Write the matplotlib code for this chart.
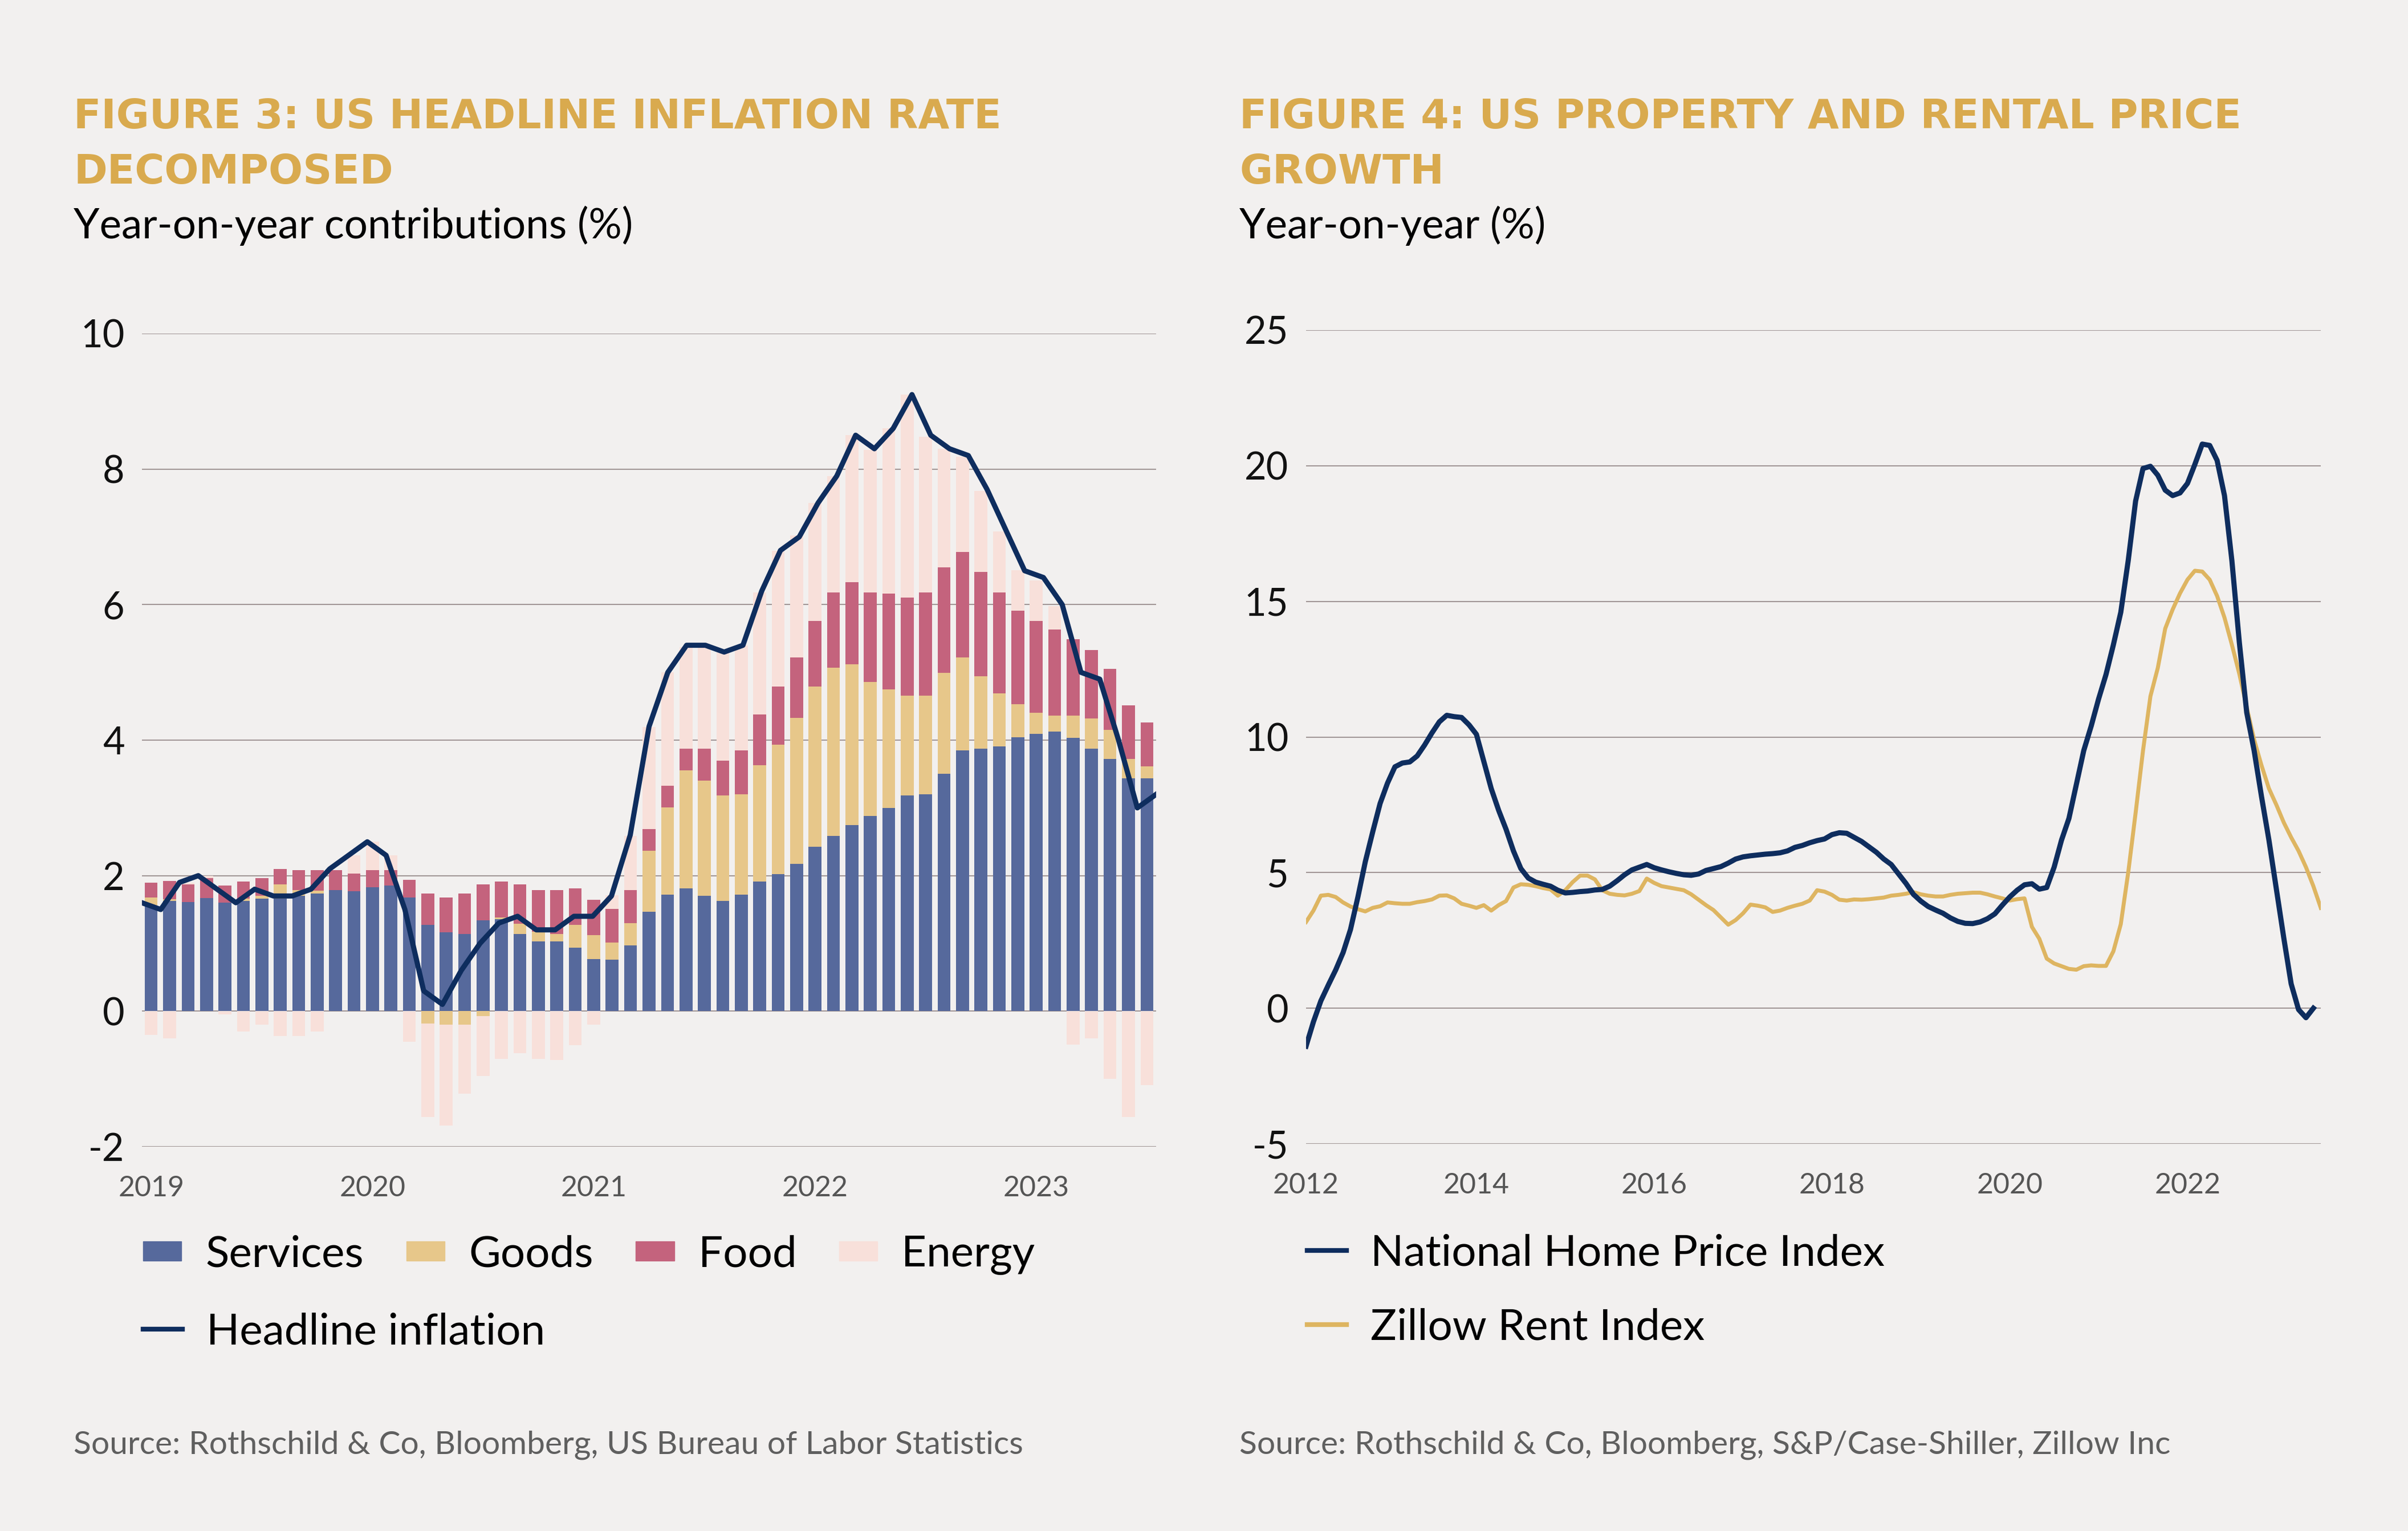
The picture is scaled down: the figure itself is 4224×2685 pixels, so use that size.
import matplotlib
matplotlib.use("Agg")
import matplotlib.pyplot as plt
import numpy as np
from matplotlib.patches import Patch
from matplotlib.lines import Line2D

plt.rcParams['font.family'] = ['Lato', 'DejaVu Sans']
plt.rcParams['axes.unicode_minus'] = False

# ---- Figure 3 data: monthly contributions, Jan 2019 - Jul 2023 ----
year_labels_l = ['2019', '2020', '2021', '2022', '2023']
services = [1.55, 1.63, 1.61, 1.67, 1.60, 1.63, 1.66, 1.66, 1.70, 1.74, 1.79, 1.77,
            1.83, 1.85, 1.68, 1.27, 1.16, 1.14, 1.34, 1.36, 1.14, 1.03, 1.03, 0.94,
            0.77, 0.76, 0.97, 1.47, 1.72, 1.81, 1.70, 1.63, 1.72, 1.91, 2.02, 2.17,
            2.43, 2.59, 2.75, 2.88, 3.00, 3.18, 3.20, 3.50, 3.85, 3.87, 3.91, 4.04,
            4.09, 4.13, 4.03, 3.87, 3.72, 3.44, 3.44]
goods = [0.13, 0.02, 0.00, 0.00, 0.00, 0.03, 0.04, 0.21, 0.09, 0.04, 0.00, 0.00,
         0.00, 0.00, 0.00, -0.18, -0.20, -0.20, -0.07, 0.02, 0.15, 0.14, 0.11, 0.33,
         0.35, 0.25, 0.33, 0.90, 1.29, 1.74, 1.70, 1.55, 1.48, 1.72, 1.91, 2.16,
         2.36, 2.48, 2.37, 1.98, 1.75, 1.48, 1.46, 1.49, 1.37, 1.07, 0.78, 0.49,
         0.31, 0.23, 0.33, 0.45, 0.43, 0.28, 0.17]
food = [0.22, 0.27, 0.26, 0.29, 0.25, 0.25, 0.26, 0.23, 0.29, 0.30, 0.29, 0.26,
        0.25, 0.23, 0.26, 0.47, 0.52, 0.60, 0.53, 0.53, 0.58, 0.62, 0.65, 0.54,
        0.52, 0.50, 0.49, 0.32, 0.32, 0.32, 0.47, 0.52, 0.65, 0.75, 0.86, 0.89,
        0.97, 1.11, 1.21, 1.32, 1.41, 1.44, 1.52, 1.56, 1.56, 1.54, 1.49, 1.38,
        1.36, 1.27, 1.13, 1.01, 0.90, 0.79, 0.65]
energy = [-0.35, -0.40, 0.03, 0.04, -0.05, -0.30, -0.20, -0.37, -0.37, -0.30, 0.00, 0.27,
          0.42, 0.22, -0.45, -1.38, -1.49, -1.02, -0.89, -0.70, -0.62, -0.70, -0.72, -0.50,
          -0.20, 0.20, 0.80, 1.50, 1.67, 1.50, 1.50, 1.60, 1.55, 1.80, 2.00, 1.80,
          1.74, 1.72, 2.17, 2.10, 2.44, 3.00, 2.30, 1.75, 1.40, 1.20, 0.90, 0.60,
          0.60, 0.35, -0.49, -0.40, -1.00, -1.56, -1.09]
headline = [1.6, 1.5, 1.9, 2.0, 1.8, 1.6, 1.8, 1.7, 1.7, 1.8, 2.1, 2.3,
            2.5, 2.3, 1.5, 0.3, 0.1, 0.6, 1.0, 1.3, 1.4, 1.2, 1.2, 1.4,
            1.4, 1.7, 2.6, 4.2, 5.0, 5.4, 5.4, 5.3, 5.4, 6.2, 6.8, 7.0,
            7.5, 7.9, 8.5, 8.3, 8.6, 9.1, 8.5, 8.3, 8.2, 7.7, 7.1, 6.5,
            6.4, 6.0, 5.0, 4.9, 4.0, 3.0, 3.2]

# ---- Figure 4 data: monthly YoY, from Feb 2012 ----
year_labels_r = ['2012', '2014', '2016', '2018', '2020', '2022']
home_price = [-1.4, -0.5, 0.27, 0.85, 1.41, 2.05, 2.9, 4.1, 5.4, 6.5, 7.55, 8.3,
              8.9, 9.04, 9.08, 9.3, 9.7, 10.15, 10.56, 10.8, 10.75, 10.72, 10.45, 10.1,
              9.1, 8.1, 7.3, 6.6, 5.8, 5.15, 4.8, 4.65, 4.57, 4.5, 4.35, 4.25,
              4.27, 4.3, 4.32, 4.36, 4.38, 4.5, 4.7, 4.92, 5.1, 5.2, 5.3, 5.18,
              5.1, 5.03, 4.97, 4.92, 4.9, 4.95, 5.08, 5.15, 5.22, 5.35, 5.5, 5.58,
              5.62, 5.65, 5.68, 5.7, 5.73, 5.8, 5.93, 6.0, 6.1, 6.18, 6.24, 6.4,
              6.47, 6.45, 6.3, 6.15, 5.95, 5.75, 5.5, 5.3, 4.95, 4.6, 4.2, 3.95,
              3.75, 3.62, 3.5, 3.33, 3.2, 3.13, 3.12, 3.18, 3.3, 3.48, 3.8, 4.1,
              4.35, 4.55, 4.59, 4.39, 4.45, 5.2, 6.2, 7.0, 8.25, 9.5, 10.4, 11.4,
              12.3, 13.4, 14.6, 16.5, 18.7, 19.9, 19.98, 19.65, 19.1, 18.9, 19.0, 19.35,
              20.05, 20.8, 20.75, 20.2, 18.9, 16.5, 13.5, 10.9, 9.5, 7.8, 6.2, 4.4,
              2.6, 0.9, -0.05, -0.35, 0.0]
zillow_rent = [3.18, 3.6, 4.15, 4.18, 4.1, 3.9, 3.75, 3.65, 3.57, 3.7, 3.76, 3.9,
               3.87, 3.85, 3.85, 3.91, 3.95, 4.01, 4.15, 4.16, 4.05, 3.85, 3.78, 3.7,
               3.8, 3.6, 3.8, 3.95, 4.45, 4.57, 4.55, 4.5, 4.43, 4.38, 4.15, 4.35,
               4.65, 4.89, 4.89, 4.75, 4.35, 4.22, 4.18, 4.16, 4.22, 4.32, 4.78, 4.62,
               4.5, 4.45, 4.4, 4.35, 4.2, 4.0, 3.8, 3.62, 3.35, 3.08, 3.25, 3.5,
               3.82, 3.78, 3.72, 3.55, 3.6, 3.7, 3.78, 3.85, 3.97, 4.35, 4.3, 4.18,
               4.0, 3.97, 4.01, 4.0, 4.02, 4.05, 4.08, 4.15, 4.18, 4.22, 4.28, 4.2,
               4.15, 4.12, 4.12, 4.18, 4.22, 4.24, 4.26, 4.26, 4.2, 4.12, 4.05, 3.97,
               4.02, 4.05, 3.0, 2.56, 1.83, 1.65, 1.55, 1.45, 1.42, 1.55, 1.58, 1.56,
               1.56, 2.1, 3.1, 5.0, 7.2, 9.5, 11.5, 12.55, 14.0, 14.7, 15.3, 15.8,
               16.13, 16.1, 15.8, 15.2, 14.4, 13.4, 12.33, 11.1, 9.9, 8.95, 8.1, 7.5,
               6.85, 6.3, 5.8, 5.2, 4.5, 3.7]

# colours
bg = '#F2F0EF'
c_serv = '#56699C'
c_goods = '#E7C78A'
c_food = '#C4637D'
c_energy = '#F8E0DA'
c_navy = '#0E2D5E'
c_gold = '#D9AA4E'
c_zillow = '#DEB561'
c_grid = '#A29797'

W, H = 4224, 2685
fig = plt.figure(figsize=(W / 100, H / 100), dpi=100, facecolor=bg)


def box(x0, y0, x1, y1):
    return [x0 / W, 1 - y1 / H, (x1 - x0) / W, (y1 - y0) / H]


def fx(px):
    return px / W


def fy(py):
    return 1 - py / H


def style_axis(ax):
    ax.set_facecolor(bg)
    for s in ax.spines.values():
        s.set_visible(False)
    ax.grid(axis='y', color=c_grid, lw=1.5)
    ax.set_axisbelow(True)
    ax.tick_params(axis='both', length=0)
    ax.tick_params(axis='y', labelsize=48, labelcolor='#111111', pad=22)
    ax.tick_params(axis='x', labelsize=36, labelcolor='#555555', pad=36)


# ---------------- Figure 3 ----------------
ax1 = fig.add_axes(box(249, 585, 2028, 2011))
style_axis(ax1)
n = len(services)
x = np.arange(n)
serv = np.array(services)
gd = np.array(goods)
fd = np.array(food)
en = np.array(energy)
bw = 0.7

gd_pos = np.clip(gd, 0, None)
gd_neg = np.clip(gd, None, 0)
top_stack = serv + gd_pos + fd
en_bottom = np.where(en >= 0, top_stack, gd_neg)

ax1.bar(x, en, bw, bottom=en_bottom, color=c_energy, zorder=2)
ax1.bar(x, serv, bw, color=c_serv, zorder=3)
ax1.bar(x, gd, bw, bottom=np.where(gd >= 0, serv, 0), color=c_goods, zorder=3)
ax1.bar(x, fd, bw, bottom=serv + gd_pos, color=c_food, zorder=3)

# the headline line is stretched across the full plotting width
line_x = np.linspace(-0.5, n - 0.5, len(headline))
ax1.plot(line_x, headline, color=c_navy, lw=6.5, zorder=4)

ax1.set_xlim(-0.5, n - 0.5)
ax1.set_ylim(-2, 10)
ax1.set_yticks(np.arange(-2, 11, 2))
ax1.set_xticks(np.arange(0, n, 12))
ax1.set_xticklabels(year_labels_l)

# ---------------- Figure 4 ----------------
ax2 = fig.add_axes(box(2291, 579, 4071, 2006))
style_axis(ax2)
t_hp = 2012 + (1 + np.arange(len(home_price))) / 12
t_zr = 2012 + (1 + np.arange(len(zillow_rent))) / 12
ax2.plot(t_zr, zillow_rent, color=c_zillow, lw=5, zorder=3)
ax2.plot(t_hp, home_price, color=c_navy, lw=6.5, zorder=4)
ax2.set_xlim(t_zr[0], t_zr[-1])
ax2.set_ylim(-5, 25)
ax2.set_yticks(np.arange(-5, 26, 5))
ax2.set_xticks([t_zr[0], 2014, 2016, 2018, 2020, 2022])
ax2.set_xticklabels(year_labels_r)

# ---------------- titles ----------------
title_kw = dict(color=c_gold, fontsize=51, fontweight='bold', family='DejaVu Sans',
                va='baseline', ha='left')
fig.text(fx(129), fy(225), 'FIGURE 3: US HEADLINE INFLATION RATE', **title_kw)
fig.text(fx(129), fy(322), 'DECOMPOSED', **title_kw)
fig.text(fx(2174), fy(225), 'FIGURE 4: US PROPERTY AND RENTAL PRICE', **title_kw)
fig.text(fx(2174), fy(322), 'GROWTH', **title_kw)

sub_kw = dict(color='#000000', fontsize=52.5, fontweight='normal', va='baseline', ha='left')
fig.text(fx(129), fy(418), 'Year-on-year contributions (%)', **sub_kw)
fig.text(fx(2174), fy(418), 'Year-on-year (%)', **sub_kw)

src_kw = dict(color='#5f5f5f', fontsize=41, va='center', ha='left')
fig.text(fx(129), fy(2534), 'Source: Rothschild & Co, Bloomberg, US Bureau of Labor Statistics', **src_kw)
fig.text(fx(2174), fy(2534), 'Source: Rothschild & Co, Bloomberg, S&P/Case-Shiller, Zillow Inc', **src_kw)

# ---------------- legends ----------------
leg_kw = dict(frameon=False, fontsize=55, borderpad=0, borderaxespad=0,
              handletextpad=0.55, loc='center left')
patches = [Patch(color=c_serv, label='Services'), Patch(color=c_goods, label='Goods'),
           Patch(color=c_food, label='Food'), Patch(color=c_energy, label='Energy')]
fig.legend(handles=patches, ncol=4, handlelength=0.88, handleheight=0.32,
           columnspacing=0.98, bbox_to_anchor=(fx(251), fy(2201)), **leg_kw)
fig.legend(handles=[Line2D([], [], color=c_navy, lw=6, label='Headline inflation')],
           handlelength=0.9, bbox_to_anchor=(fx(251), fy(2336)), **leg_kw)
fig.legend(handles=[Line2D([], [], color=c_navy, lw=6, label='National Home Price Index'),
                    Line2D([], [], color=c_zillow, lw=6, label='Zillow Rent Index')],
           handlelength=0.9, labelspacing=0.8,
           bbox_to_anchor=(fx(2293), fy(2263)), **leg_kw)

fig.savefig('out.png', dpi=100, facecolor=bg)
